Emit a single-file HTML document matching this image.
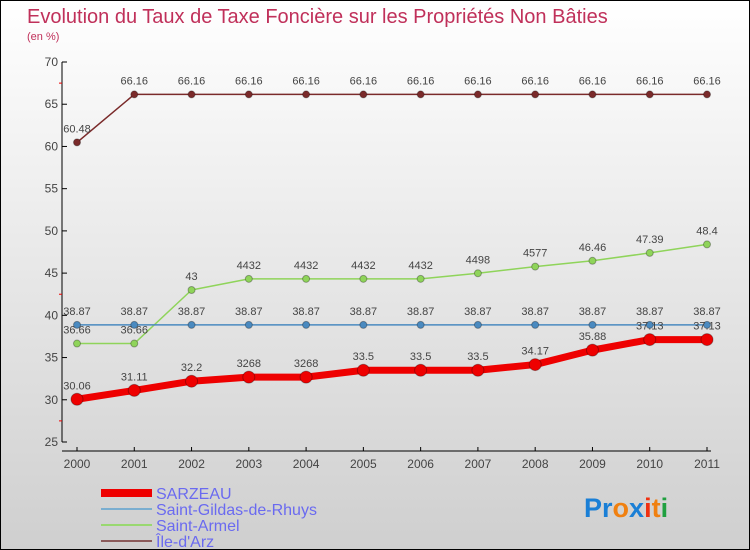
<!DOCTYPE html>
<html><head><meta charset="utf-8"><style>
html,body{margin:0;padding:0}
body{width:750px;height:550px;overflow:hidden;font-family:"Liberation Sans",sans-serif}
#wrap{position:relative;width:748px;height:548px;border:1px solid #000;background:linear-gradient(#ffffff,#cfcfcf)}
</style></head><body>
<div id="wrap">
<svg id="chart" width="748" height="548" style="position:absolute;left:0;top:0">
<text x="26" y="22" font-size="20" fill="#c0305a">Evolution du Taux de Taxe Foncière sur les Propriétés Non Bâties</text>
<text x="26" y="39" font-size="11" fill="#c0305a">(en %)</text>
<g id="axes"></g><g id="series"></g><g id="legend"></g>
<text x="583" y="516" font-size="27" font-weight="bold"><tspan fill="#1a7fd6">Pr</tspan><tspan fill="#f08010">o</tspan><tspan fill="#1a7fd6">x</tspan><tspan fill="#f03010">i</tspan><tspan fill="#f08010">t</tspan><tspan fill="#20a040">i</tspan></text>
</svg></div>
<script>
const years=["2000","2001","2002","2003","2004","2005","2006","2007","2008","2009","2010","2011"];
const yTicks=[25,30,35,40,45,50,55,60,65,70];
const sarzeau=[30.06,31.11,32.2,32.68,32.68,33.5,33.5,33.5,34.17,35.88,37.13,37.13];
const sarzeauLabels=["30.06","31.11","32.2","3268","3268","33.5","33.5","33.5","34.17","35.88","37.13","37.13"];
const gildas=[38.87,38.87,38.87,38.87,38.87,38.87,38.87,38.87,38.87,38.87,38.87,38.87];
const gildasLabels=["38.87","38.87","38.87","38.87","38.87","38.87","38.87","38.87","38.87","38.87","38.87","38.87"];
const armel=[36.66,36.66,43,44.32,44.32,44.32,44.32,44.98,45.77,46.46,47.39,48.4];
const armelLabels=["36.66","36.66","43","4432","4432","4432","4432","4498","4577","46.46","47.39","48.4"];
const arz=[60.48,66.16,66.16,66.16,66.16,66.16,66.16,66.16,66.16,66.16,66.16,66.16];
const arzLabels=["60.48","66.16","66.16","66.16","66.16","66.16","66.16","66.16","66.16","66.16","66.16","66.16"];
const NS="http://www.w3.org/2000/svg";
const X=i=>76+i*(630/11);
const Y=v=>61+(70-v)*(380/45);
function mk(t,a,p){const e=document.createElementNS(NS,t);for(const k in a)e.setAttribute(k,a[k]);p.appendChild(e);return e;}
const ax=document.getElementById('axes');
let l=mk('line',{x1:61,y1:61,x2:61,y2:441,stroke:'#000'},ax);

yTicks.forEach(v=>{mk('line',{x1:61,y1:Y(v),x2:66,y2:Y(v),stroke:'#000'},ax);
 const t=mk('text',{x:57,y:Y(v)+4,'text-anchor':'end','font-size':12,fill:'#444'},ax);t.textContent=v;
 });
[67.5,42.5,27.5].forEach(v=>mk('line',{x1:58,y1:Y(v),x2:61,y2:Y(v),stroke:'#e00'},ax));
l=mk('line',{x1:61,y1:450,x2:710,y2:450,stroke:'#000'},ax);

years.forEach((y,i)=>{mk('line',{x1:X(i),y1:446,x2:X(i),y2:450,stroke:'#000'},ax);
 const t=mk('text',{x:X(i),y:467,'text-anchor':'middle','font-size':12,fill:'#444'},ax);t.textContent=y;
 });
const sg=document.getElementById('series');
function series(name,vals,labs,color,w,r,dy){
 const g=mk('g',{},sg);
 mk('polyline',{points:vals.map((v,i)=>X(i)+','+Y(v)).join(' '),fill:'none',stroke:color,'stroke-width':w,'stroke-linejoin':'round'},g);
 vals.forEach((v,i)=>{const c=mk('circle',{cx:X(i),cy:Y(v),r:r,fill:color,stroke:'rgba(0,0,0,0.3)'},g);
  
  const t=mk('text',{x:X(i),y:Y(v)+dy,'text-anchor':'middle','font-size':11,fill:'#444'},g);t.textContent=labs[i];
  });
}
series('ile-d-arz',arz,arzLabels,'#7a2a2a',1.5,3.5,-10);
series('saint-armel',armel,armelLabels,'#8fd45a',1.5,3.5,-10);
series('saint-gildas',gildas,gildasLabels,'#4a8ac0',1.5,3.5,-10);
series('sarzeau',sarzeau,sarzeauLabels,'#ee0000',7,6,-10);
const lg=document.getElementById('legend');
[["SARZEAU","#ee0000",8],["Saint-Gildas-de-Rhuys","#7aaed0",2],["Saint-Armel","#99d870",2],["Île-d'Arz","#8a5a5a",2]].forEach((e,i)=>{
 const g=mk('g',{},lg);
 const y=492+i*16;
 mk('line',{x1:100,y1:y,x2:151,y2:y,stroke:e[1],'stroke-width':e[2]},g);
 const t=mk('text',{x:155,y:y+6,'font-size':16,fill:'#6a6af0'},g);t.textContent=e[0];});
</script>
</body></html>
